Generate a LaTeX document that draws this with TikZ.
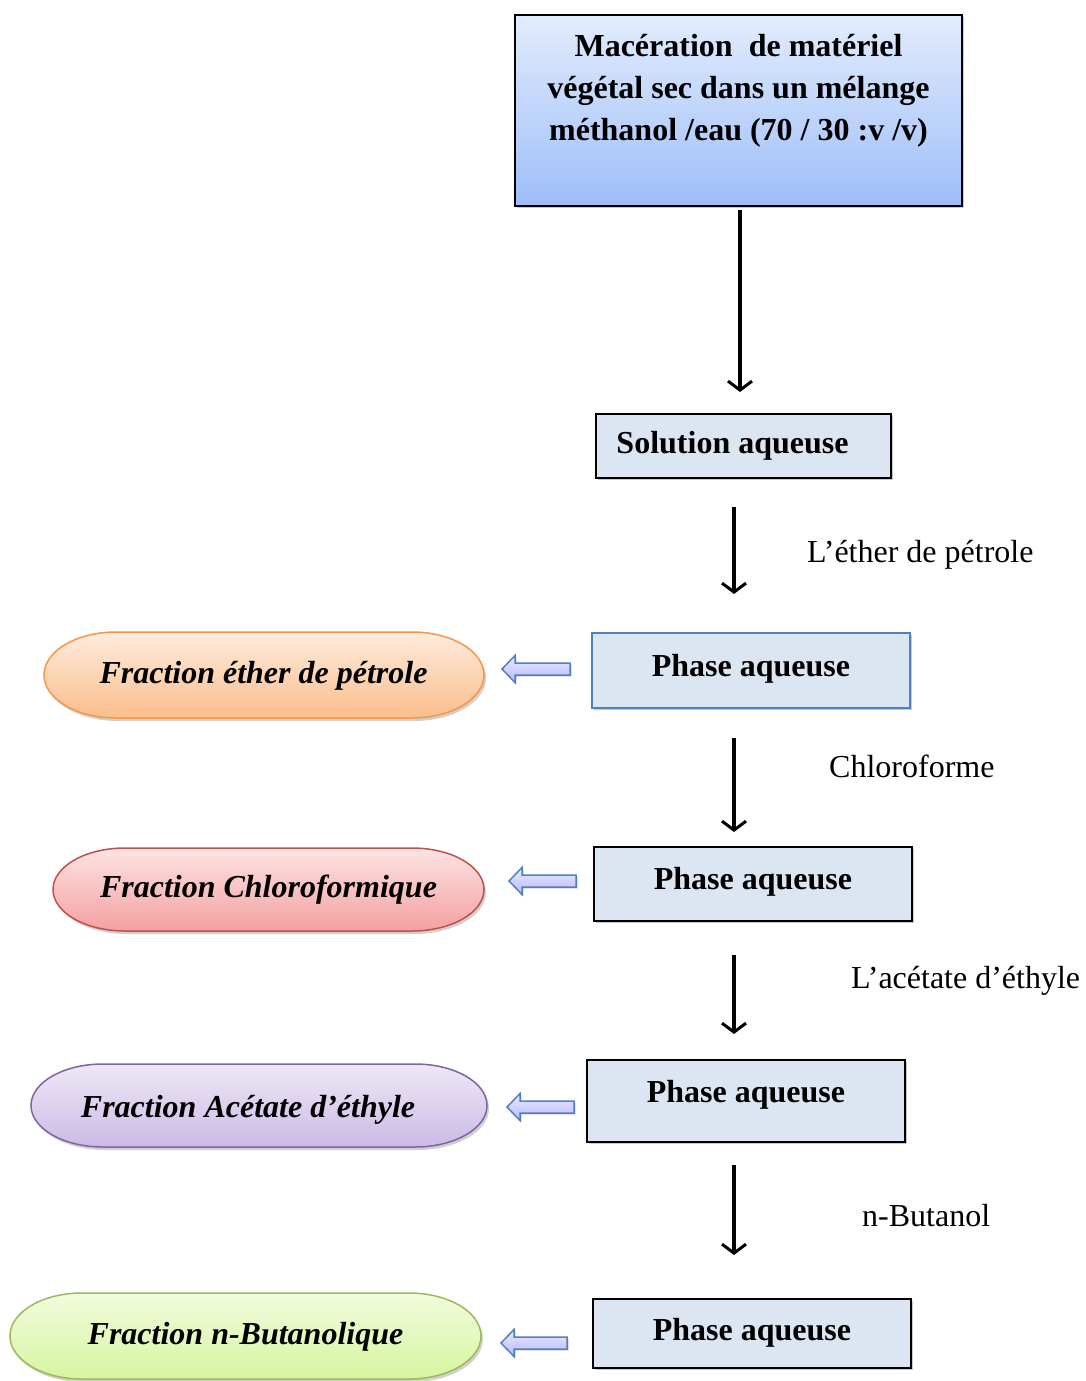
\documentclass[tikz,border=0pt]{standalone}
\usepackage{fontspec}
\setmainfont{Liberation Serif}
\usetikzlibrary{arrows.meta,shadows}
\definecolor{boxfill}{HTML}{DCE6F2}
\definecolor{arrowblue}{HTML}{4F81BD}
\begin{document}
\begin{tikzpicture}[x=1pt,y=-1pt,
  boxbase/.style={rectangle, line width=2pt, draw=black, fill=boxfill,
    font=\fontsize{32}{42}\selectfont\bfseries, inner sep=0pt,
    drop shadow={shadow xshift=2pt,shadow yshift=-2pt,opacity=0.35,fill=black!60}},
  phasebox/.style={boxbase, minimum width=318pt, text height=22pt, text depth=11pt},
  fractext/.style={font=\fontsize{32}{38}\selectfont\bfseries\itshape, inner sep=0pt, anchor=base},
  fracpath/.style={line width=1.5pt,
    drop shadow={shadow xshift=2pt,shadow yshift=-3pt,opacity=0.3,fill=black!60}},
  flow/.style={line width=3.4pt, -{Straight Barb[length=9pt,width=24pt,line width=3pt]}},
  lab/.style={font=\fontsize{32}{38}\selectfont, inner sep=0pt},
  hollow/.style={draw=arrowblue, line width=1.5pt, line join=miter, top color=blue!8, bottom color=blue!28,
    drop shadow={shadow xshift=1.5pt,shadow yshift=-1.5pt,opacity=0.3,fill=black!60}}
]
\useasboundingbox (0,0) rectangle (1086,1381);
\fill[white] (0,0) rectangle (1086,1381);

% pill shape with elliptical ends: #1 cx, #2 cy, #3 half width, #4 half height, #5 style
\newcommand\pillShape[5]{%
  \path[fracpath,#5] (#1-#3+72,#2-#4) -- (#1+#3-72,#2-#4)
    arc[start angle=-90,end angle=90,x radius=72,y radius=#4]
    -- (#1-#3+72,#2+#4)
    arc[start angle=90,end angle=270,x radius=72,y radius=#4] -- cycle;}

% main box
\node[boxbase, minimum width=447pt, minimum height=191pt, align=center, text depth=47pt,
  top color={rgb,255:red,226;green,236;blue,253}, bottom color={rgb,255:red,158;green,190;blue,248}]
  (mac) at (738.5,110.5) {Macération\ \ de matériel\\végétal sec dans un mélange\\méthanol /eau (70 / 30 :v /v)};

% solution aqueuse
\node[boxbase, minimum width=295pt, minimum height=64pt, text height=22pt, text depth=8pt]
  (sol) at (743.5,446) {\hspace*{-22pt}Solution aqueuse};

% phase boxes
\node[phasebox, minimum height=75pt, draw=arrowblue, line width=1.5pt] (p1) at (751,670.5) {Phase aqueuse};
\node[phasebox, minimum height=74pt] (p2) at (753,884) {Phase aqueuse};
\node[phasebox, minimum height=82pt, text depth=19pt] (p3) at (746,1101) {Phase aqueuse};
\node[phasebox, minimum height=69pt, text depth=9pt] (p4) at (752,1333.5) {Phase aqueuse};

% fractions
\pillShape{264}{675}{220}{43}{draw={rgb,255:red,247;green,150;blue,70},
  top color={rgb,255:red,254;green,236;blue,222}, bottom color={rgb,255:red,250;green,190;blue,140}}
\pillShape{268.5}{889.5}{215.5}{41.5}{draw={rgb,255:red,192;green,80;blue,77},
  top color={rgb,255:red,253;green,228;blue,228}, bottom color={rgb,255:red,244;green,160;blue,160}}
\pillShape{259}{1105.5}{228}{41.5}{draw={rgb,255:red,128;green,100;blue,162},
  top color={rgb,255:red,238;green,232;blue,246}, bottom color={rgb,255:red,204;green,186;blue,230}}
\pillShape{245.5}{1336}{235.5}{43}{draw={rgb,255:red,155;green,187;blue,89},
  top color={rgb,255:red,242;green,252;blue,222}, bottom color={rgb,255:red,214;green,245;blue,160}}
\node[fractext] (f1) at (263.5,683) {Fraction éther de pétrole};
\node[fractext] (f2) at (268.5,897) {Fraction Chloroformique};
\node[fractext] (f3) at (248,1117) {Fraction Acétate d’éthyle};
\node[fractext] (f4) at (245.5,1344) {Fraction n-Butanolique};

% black flow arrows
\coordinate (a1s) at (740,210); \coordinate (a1e) at (740,392);
\draw[flow] (a1s) -- (a1e);
\coordinate (a2s) at (734,507); \coordinate (a2e) at (734,594);
\draw[flow] (a2s) -- (a2e);
\coordinate (a3s) at (734,738); \coordinate (a3e) at (734,832);
\draw[flow] (a3s) -- (a3e);
\coordinate (a4s) at (734,955); \coordinate (a4e) at (734,1034);
\draw[flow] (a4s) -- (a4e);
\coordinate (a5s) at (734,1165); \coordinate (a5e) at (734,1255);
\draw[flow] (a5s) -- (a5e);

% labels
\node[lab, anchor=base west] (l1) at (807,562) {L’éther de pétrole};
\node[lab, anchor=base west] (l2) at (829,777) {Chloroforme};
\node[lab, anchor=base west] (l3) at (851,988) {L’acétate d’éthyle};
\node[lab, anchor=base west] (l4) at (862,1226) {n-Butanol};

% hollow arrows
\newcommand\hollowArrow[3]{%
  \path[hollow] (#2,#3-6) -- (#1+13,#3-6) -- (#1+13,#3-13.5) -- (#1,#3)
    -- (#1+13,#3+13.5) -- (#1+13,#3+6) -- (#2,#3+6) -- cycle;}
\hollowArrow{502}{570}{669}
\hollowArrow{509}{576}{881}
\hollowArrow{507}{574}{1107}
\hollowArrow{501}{567}{1343}
\end{tikzpicture}
\end{document}
